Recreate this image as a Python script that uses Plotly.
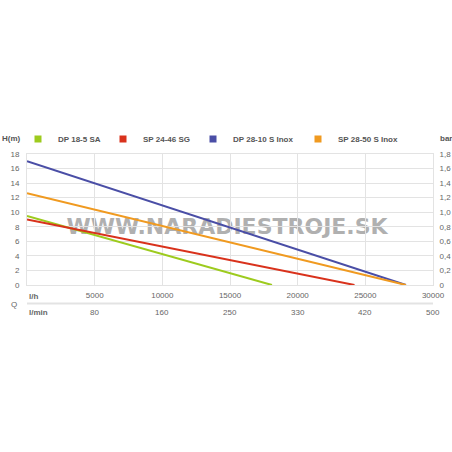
import plotly.graph_objects as go

# pump curves: flow (l/h) -> head (m), straight lines
names = ["DP 18-5 SA", "SP 24-46 SG", "DP 28-10 S Inox", "SP 28-50 S Inox"]
colors = ["#9dcb1e", "#d9321c", "#4a4ea6", "#f09a20"]
flow = [[0, 18100], [0, 24200], [0, 28000], [0, 28000]]
head = [[9.5, 0], [9.0, 0], [17.0, 0], [12.6, 0]]

lh_ticks = [5000, 10000, 15000, 20000, 25000, 30000]
lmin_labels = ["80", "160", "250", "330", "420", "500"]
h_ticks = [0, 2, 4, 6, 8, 10, 12, 14, 16, 18]
bar_ticks = [0, 0.2, 0.4, 0.6, 0.8, 1.0, 1.2, 1.4, 1.6, 1.8]

grid = "#e3e3e3"
txt = "#666666"
font = "Liberation Sans"

# plot area in pixels: x 27..433, y 154..285
T, B, L, R = 154, 120, 27, 19
PW = 452 - L - R
def py(ypix):
    return (452 - B - ypix) / (452 - T - B)
def px_(xpix):
    return (xpix - L) / PW

legend_px = [18, 103, 193, 298]
legend_keys = ["legend", "legend2", "legend3", "legend4"]

fig = go.Figure()
for n, c, fx, hy in zip(names, colors, flow, head):
    fig.add_trace(go.Scatter(x=fx, y=hy, mode="lines", line=dict(color=c, width=2),
                             showlegend=False, hoverinfo="skip"))
# legend entries with square markers, one legend each so they sit where the reference has them
for n, c, lg in zip(names, colors, legend_keys):
    fig.add_trace(go.Scatter(x=[None], y=[None], mode="markers", name=n, legend=lg,
                             marker=dict(symbol="square", size=7, color=c)))
# invisible trace to carry right axis
fig.add_trace(go.Scatter(x=[None], y=[None], yaxis="y2", showlegend=False))

legfont = dict(size=8, color="#555555", family=font, weight="bold")
legends = {}
for lg, xp in zip(legend_keys, legend_px):
    legends[lg] = dict(orientation="h", x=px_(xp), xanchor="left", y=py(139), yanchor="middle",
                       font=legfont, bgcolor="rgba(0,0,0,0)")

fig.update_layout(
    width=452, height=452,
    margin=dict(l=L, r=R, t=T, b=B, pad=0, autoexpand=False),
    plot_bgcolor="white", paper_bgcolor="white",
    font=dict(family=font, size=8, color=txt),
    xaxis=dict(range=[0, 30000], tickvals=[0] + lh_ticks, ticktext=[""] + [str(v) for v in lh_ticks],
               showgrid=True, gridcolor=grid, gridwidth=1, zeroline=False,
               showline=True, linecolor=grid, mirror=True, ticks="outside", ticklen=2,
               tickcolor="white", tickfont=dict(size=8, color=txt), fixedrange=True),
    yaxis=dict(range=[0, 18], tickvals=h_ticks, domain=[py(285), 1],
               showgrid=True, gridcolor=grid, gridwidth=1, zeroline=False,
               showline=True, linecolor=grid, mirror=True, ticks="outside", ticklen=5,
               tickcolor="white", tickfont=dict(size=8, color=txt)),
    yaxis2=dict(range=[0, 1.8], overlaying="y", side="right", tickvals=bar_ticks,
                ticktext=[("%.1f" % v).replace(".", ",") if v else "0" for v in bar_ticks],
                showgrid=False, zeroline=False, ticks="outside", ticklen=4, tickcolor="white",
                tickfont=dict(size=8, color=txt)),
    **legends,
)

# watermark sits under the curves
fig.add_shape(type="rect", xref="paper", yref="paper", x0=px_(60), x1=px_(394),
              y0=py(234), y1=py(214), line=dict(width=0), fillcolor="rgba(0,0,0,0)",
              layer="between",
              label=dict(text="<b>WWW.NARADIESTROJE.SK</b>", textposition="middle center",
                         font=dict(size=22, color="#b0b0b0", family="DejaVu Sans")))

ann = []
def note(text, x, y, xref="paper", xanchor="center", color=txt):
    ann.append(dict(text=text, x=x, y=y, xref=xref, yref="paper", xanchor=xanchor, yanchor="middle",
                    showarrow=False, font=dict(size=8, color=color, family=font)))

note("<b>H(m)</b>", px_(0), py(139), xanchor="left", color="#555555")
note("<b>bar</b>", px_(438), py(139), xanchor="left", color="#555555")
note("<b>l/h</b>", 0, py(296), xref="x", xanchor="left")
note("<b>l/min</b>", 0, py(312), xref="x", xanchor="left")
note("Q", px_(14), py(304))
for v, lab in zip(lh_ticks, lmin_labels):
    note(lab, v, py(312), xref="x")
fig.update_layout(annotations=ann)

fig.add_shape(type="line", xref="x", yref="paper", x0=0, x1=30000, y0=py(303.5), y1=py(303.5),
              line=dict(color=grid, width=2))

fig.write_html("out.html", config={"staticPlot": True},
               post_script="document.body.style.margin='0';document.body.style.overflow='hidden';")
